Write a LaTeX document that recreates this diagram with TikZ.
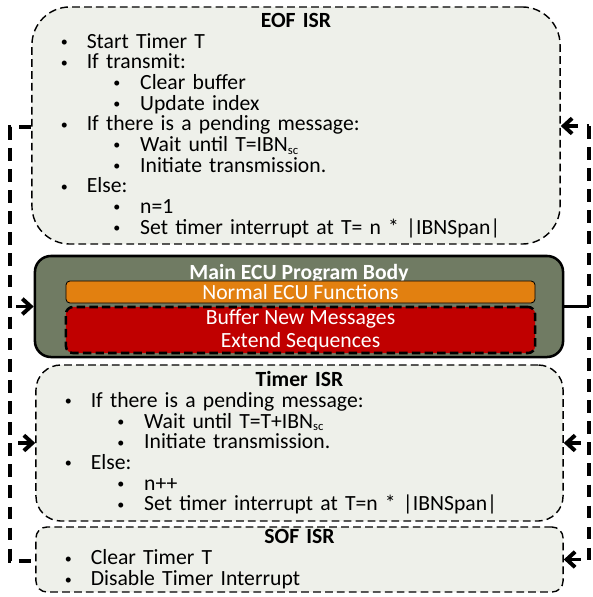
\documentclass[tikz,border=0pt]{standalone}
\usepackage{fontspec}
\setmainfont{Carlito}
\usetikzlibrary{arrows.meta,positioning}

\definecolor{isrgray}{RGB}{238,240,234}
\definecolor{ecuolive}{RGB}{112,123,99}
\definecolor{ecuorange}{RGB}{226,128,16}
\definecolor{ecured}{RGB}{192,0,0}

% list lines inside the ISR boxes
\newcommand{\isrhead}[1]{{\centering\bfseries #1\par}}
\newcommand{\dotmark}{\raisebox{1.2pt}{\fontsize{10}{10}\selectfont\textbullet}}
\newcommand{\bulA}[1]{\par\hspace*{20.5pt}\makebox[18.5pt][l]{\dotmark}#1}
\newcommand{\bulB}[1]{\par\hspace*{58pt}\makebox[19pt][l]{\dotmark}#1}
\newcommand{\lowsc}{\raisebox{-1.8pt}[0pt][0pt]{\fontsize{9}{9}\selectfont sc}}

\begin{document}
\begin{tikzpicture}[
                x=0.025cm, y=-0.025cm,
                >={Straight Barb[length=6pt,width=11pt]},
                isr/.style={draw, dash pattern=on 5.5pt off 3pt, line width=1pt, fill=isrgray,
                            inner xsep=0pt, inner ysep=0pt, align=left,
                            font=\fontsize{15.4}{14.7}\selectfont},
                bus/.style={line width=2.8pt, dash pattern=on 9pt off 6pt},
                whitetxt/.style={text=white, font=\fontsize{15.4}{16.4}\selectfont}
                ]
    \useasboundingbox (0,0) rectangle (592,597);

    % interrupt routines
    \node [isr, rounded corners=0.95cm, text width=13.2cm, minimum height=5.925cm] (eof) at (296,125.5) {%
        \isrhead{EOF ISR}
        \bulA{Start Timer T}
        \bulA{If transmit:}
        \bulB{Clear buffer}
        \bulB{Update index}
        \bulA{If there is a pending message:}
        \bulB{Wait until T=IBN\lowsc}
        \bulB{Initiate transmission.}
        \bulA{Else:}
        \bulB{n=1}
        \bulB{Set timer interrupt at T= n * |IBNSpan|}};
    \node [isr, rounded corners=0.625cm, text width=13.175cm, minimum height=3.9cm] (timer) at (299.5,443) {%
        \isrhead{Timer ISR}
        \bulA{If there is a pending message:}
        \bulB{Wait until T=T+IBN\lowsc}
        \bulB{Initiate transmission.}
        \bulA{Else:}
        \bulB{n++}
        \bulB{Set timer interrupt at T=n * |IBNSpan|}};
    \node [isr, rounded corners=0.275cm, text width=13.175cm, minimum height=1.625cm,
           font=\fontsize{15.4}{15}\selectfont] (sof) at (299.5,559.5) {%
        \isrhead{SOF ISR}
        \bulA{Clear Timer T}
        \bulA{Disable Timer Interrupt}};

    % main program
    \node [draw, line width=1.8pt, fill=ecuolive, rounded corners=0.4cm,
           minimum width=13.2cm, minimum height=2.525cm] (main) at (299,306.5) {};
    \node [whitetxt, font=\fontsize{15.4}{16.4}\selectfont\bfseries, anchor=base] (mainhead) at (299,279) {Main ECU Program Body};
    \node [draw, line width=0.6pt, fill=ecuorange, rounded corners=0.1cm, whitetxt,
           minimum width=11.725cm, minimum height=0.55cm, inner sep=0pt] (normal) at (300.5,292) {Normal ECU Functions};
    \node [draw, line width=1.8pt, dash pattern=on 6pt off 3pt, fill=ecured, rounded corners=0.175cm, whitetxt,
           align=center, minimum width=11.725cm, minimum height=1.15cm, inner sep=0pt] (buffer) at (300.5,330) {Buffer New Messages\\Extend Sequences};

    % return path on the left
    \coordinate (ltop) at (10,127);
    \coordinate (lbot) at (10,561);
    \draw[bus] (eof.west |- ltop) -- (ltop) -- (lbot) -- (lbot -| sof.west);
    \draw[bus,<-] (main.west) -- (main.west -| ltop);
    \draw[bus,<-] (timer.west) -- (timer.west -| ltop);

    % interrupt path on the right
    \coordinate (rtop) at (589,126);
    \coordinate (rbot) at (589,559.5);
    \draw[line width=2.8pt] (main.east) -- (main.east -| rtop);
    \draw[bus] (rtop) -- (rbot);
    \draw[bus,<-] (eof.east |- rtop) -- (rtop);
    \draw[bus,<-] (timer.east) -- (timer.east -| rtop);
    \draw[bus,<-] (sof.east) -- (rbot);
\end{tikzpicture}
\end{document}
